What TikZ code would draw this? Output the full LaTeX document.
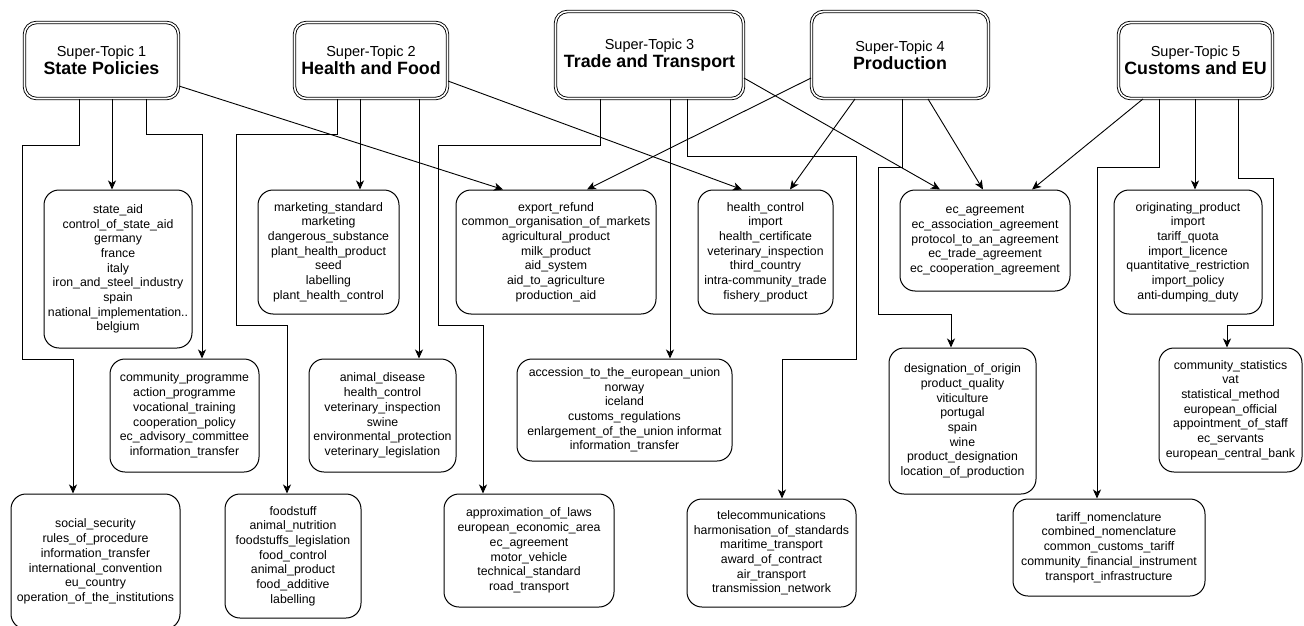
\documentclass[tikz,border=0pt]{standalone}
\usepackage{fontspec}
\setmainfont{Liberation Sans}
\usetikzlibrary{arrows.meta}
\tikzset{
  supert/.style={draw, double, double distance=1.6pt, line width=0.9pt, rounded corners=12pt, align=center, inner sep=0pt, font=\fontsize{14.5}{18}\selectfont},
  topicbox/.style={draw, line width=1pt, rounded corners=15pt, align=center, inner sep=0pt, font=\fontsize{12.3}{14.7}\selectfont},
  conn/.style={line width=0.9pt, -{Stealth[length=9pt,width=8pt,inset=2.5pt]}},
  conndiag/.style={line width=0.9pt, -{Stealth[length=9pt,width=8pt,inset=2.5pt]}}
}
\newcommand{\sttitle}[2]{#1\\{\fontsize{17.8}{18}\selectfont\bfseries #2}}
\begin{document}
\begin{tikzpicture}[x=1pt,y=-1pt]
\useasboundingbox (0,0) rectangle (1304,626);
\clip (0,0) rectangle (1304,626);
\fill[white] (0,0) rectangle (1304,626);

% super-topics
\node[supert, minimum width=154pt, minimum height=76pt] (st1) at (101.5,60.5) {\sttitle{Super-Topic 1}{State Policies}};
\node[supert, minimum width=153pt, minimum height=76pt] (st2) at (371,60.5) {\sttitle{Super-Topic 2}{Health and Food}};
\node[supert, minimum width=188pt, minimum height=87pt] (st3) at (649.5,55) {\sttitle{Super-Topic 3}{Trade and Transport}};
\node[supert, minimum width=177pt, minimum height=87pt] (st4) at (900,55) {\sttitle{Super-Topic 4}{Production}};
\node[supert, minimum width=154pt, minimum height=76pt] (st5) at (1195.5,60.5) {\sttitle{Super-Topic 5}{Customs and EU}};

% topic boxes
\node[topicbox, minimum width=148pt, minimum height=158pt] (A) at (118,269) {state\_aid\\control\_of\_state\_aid\\germany\\france\\italy\\iron\_and\_steel\_industry\\spain\\national\_implementation..\\belgium};
\node[topicbox, minimum width=141pt, minimum height=124pt] (B) at (328.5,252) {marketing\_standard\\marketing\\dangerous\_substance\\plant\_health\_product\\seed\\labelling\\plant\_health\_control};
\node[topicbox, minimum width=200pt, minimum height=124pt] (C) at (556,252) {export\_refund\\common\_organisation\_of\_markets\\agricultural\_product\\milk\_product\\aid\_system\\aid\_to\_agriculture\\production\_aid};
\node[topicbox, minimum width=135pt, minimum height=124pt] (D) at (765.5,252) {health\_control\\import\\health\_certificate\\veterinary\_inspection\\third\_country\\intra-community\_trade\\fishery\_product};
\node[topicbox, minimum width=170pt, minimum height=101pt] (E) at (985,240.5) {ec\_agreement\\ec\_association\_agreement\\protocol\_to\_an\_agreement\\ec\_trade\_agreement\\ec\_cooperation\_agreement};
\node[topicbox, minimum width=148pt, minimum height=124pt] (F) at (1188,252) {originating\_product\\import\\tariff\_quota\\import\_licence\\quantitative\_restriction\\import\_policy\\anti-dumping\_duty};
\node[topicbox, minimum width=149pt, minimum height=113pt] (G) at (184.5,415.5) {community\_programme\\action\_programme\\vocational\_training\\cooperation\_policy\\ec\_advisory\_committee\\information\_transfer};
\node[topicbox, minimum width=147pt, minimum height=113pt] (H) at (382.5,415.5) {animal\_disease\\health\_control\\veterinary\_inspection\\swine\\environmental\_protection\\veterinary\_legislation};
\node[topicbox, minimum width=215pt, minimum height=102pt] (I) at (624.5,410) {accession\_to\_the\_european\_union\\norway\\iceland\\customs\_regulations\\enlargement\_of\_the\_union informat\\information\_transfer};
\node[topicbox, minimum width=147pt, minimum height=146pt] (J) at (962.5,421) {designation\_of\_origin\\product\_quality\\viticulture\\portugal\\spain\\wine\\product\_designation\\location\_of\_production};
\node[topicbox, minimum width=143pt, minimum height=124pt] (K) at (1230.5,410) {community\_statistics\\vat\\statistical\_method\\european\_official\\appointment\_of\_staff\\ec\_servants\\european\_central\_bank};
\node[topicbox, minimum width=169pt, minimum height=135pt] (L) at (95.5,561.5) {social\_security\\rules\_of\_procedure\\information\_transfer\\international\_convention\\eu\_country\\operation\_of\_the\_institutions};
\node[topicbox, minimum width=136pt, minimum height=124pt] (M) at (293,556) {foodstuff\\animal\_nutrition\\foodstuffs\_legislation\\food\_control\\animal\_product\\food\_additive\\labelling};
\node[topicbox, minimum width=170pt, minimum height=113pt] (N) at (529,550.5) {approximation\_of\_laws\\european\_economic\_area\\ec\_agreement\\motor\_vehicle\\technical\_standard\\road\_transport};
\node[topicbox, minimum width=169pt, minimum height=108pt] (O) at (771.5,553) {telecommunications\\harmonisation\_of\_standards\\maritime\_transport\\award\_of\_contract\\air\_transport\\transmission\_network};
\node[topicbox, minimum width=192pt, minimum height=97pt] (P) at (1109,547.5) {tariff\_nomenclature\\combined\_nomenclature\\common\_customs\_tariff\\community\_financial\_instrument\\transport\_infrastructure};

% connectors: super-topic 1
\draw[conn] (st1.south -| 79,0) |- (22,145) |- (73,359) -- (L.north -| 73,0);
\draw[conn] (st1.south -| 112,0) -- (A.north -| 112,0);
\draw[conn] (st1.south -| 146,0) |- (202,134) -- (G.north -| 202,0);
\draw[conndiag] (st1.east |- 0,86) -- (C.north -| 503,0);
% super-topic 2
\draw[conn] (st2.south -| 337,0) |- (236,134) |- (287,325) -- (M.north -| 287,0);
\draw[conn] (st2.south -| 360,0) -- (B.north -| 360,0);
\draw[conn] (st2.south -| 419,0) -- (H.north -| 419,0);
\draw[conndiag] (st2.east |- 0,81) -- (D.north -| 742,0);
% super-topic 3
\draw[conn] (st3.south -| 600,0) |- (438,145) |- (483,325) -- (N.north -| 483,0);
\draw[conn] (st3.south -| 670,0) -- (I.north -| 670,0);
\draw[conn] (st3.south -| 687,0) |- (856,156) |- (782,359) -- (O.north -| 782,0);
\draw[conndiag] (st3.east |- 0,78) -- (E.north -| 940,0);
% super-topic 4
\draw[conndiag] (st4.west |- 0,78) -- (C.north -| 587,0);
\draw[conndiag] (st4.south -| 855,0) -- (D.north -| 790,0);
\draw[conn] (st4.south -| 902,0) |- (878,167) |- (951,314) -- (J.north -| 951,0);
\draw[conndiag] (st4.south -| 928,0) -- (E.north -| 983,0);
% super-topic 5
\draw[conndiag] (st5.south -| 1143,0) -- (E.north -| 1032,0);
\draw[conn] (st5.south -| 1159,0) |- (1097,167) -- (P.north -| 1097,0);
\draw[conn] (st5.south -| 1195,0) -- (F.north -| 1195,0);
\draw[conn] (st5.south -| 1238,0) |- (1273,178) |- (1227,325) -- (K.north -| 1227,0);
\end{tikzpicture}
\end{document}
